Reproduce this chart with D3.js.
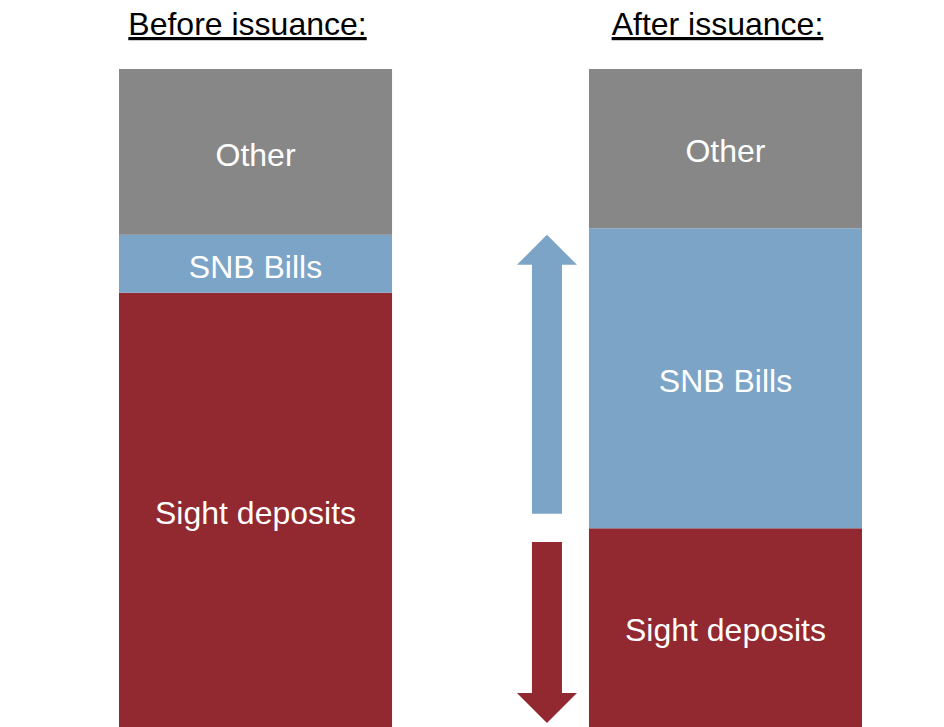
<!DOCTYPE html>
<html>
<head>
<meta charset="utf-8">
<script src="https://cdn.jsdelivr.net/npm/d3@7"></script>
<style>
  html, body { margin: 0; padding: 0; background: #fff; }
  svg { display: block; font-family: Arial, "Liberation Sans", sans-serif; }
</style>
</head>
<body>
<div id="chart"></div>
<script>
// columns and the stacked pieces (share of the balance sheet side, %)
const columns = ["Before issuance:", "After issuance:"];
const segments = ["Sight deposits", "SNB Bills", "Other"];
const beforeValues = [66.0, 8.8, 25.2];
const afterValues = [30.2, 45.6, 24.2];
const segmentColors = ["#922830", "#7ca4c7", "#878787"];

// arrows between the bars: [from, to] in the same units
const arrowUp = [32.4, 74.8];
const arrowDown = [28.1, 0.6];

(function () {
    const width = 944;
    const height = 727;

    const svg = d3.select("#chart")
        .append("svg")
            .attr("width", width)
            .attr("height", height);

    let x_scale = d3.scaleBand()
        .domain(columns)
        .range([119, 862])
        .paddingInner(0.419)
        .paddingOuter(0);

    let y_scale = d3.scaleLinear()
        .domain([0, 100])
        .range([727, 69]);

    // build stacked rows
    let rows = columns.map((c, i) => {
        let vals = i === 0 ? beforeValues : afterValues;
        let row = { column: c };
        segments.forEach((s, j) => row[s] = vals[j]);
        return row;
    });

    let stacked = d3.stack().keys(segments)(rows);
    let color = d3.scaleOrdinal().domain(segments).range(segmentColors);

    const groups = svg.selectAll("g.layer")
        .data(stacked)
        .enter()
        .append("g")
            .attr("class", "layer")
            .attr("fill", d => color(d.key));

    groups.selectAll("rect")
        .data(d => d)
        .enter()
        .append("rect")
            .attr("x", d => x_scale(d.data.column))
            .attr("width", x_scale.bandwidth())
            .attr("y", d => y_scale(d[1]))
            .attr("height", d => y_scale(d[0]) - y_scale(d[1]));

    // segment labels
    groups.selectAll("text")
        .data(d => d.map(p => ({ p: p, key: d.key })))
        .enter()
        .append("text")
            .attr("x", d => x_scale(d.p.data.column) + x_scale.bandwidth() / 2)
            .attr("y", d => (y_scale(d.p[0]) + y_scale(d.p[1])) / 2)
            .attr("dy", "0.43em")
            .attr("text-anchor", "middle")
            .style("fill", "white")
            .style("font-size", "32px")
            .text(d => d.key);

    // column titles
    svg.selectAll("text.title")
        .data(columns)
        .enter()
        .append("text")
            .attr("class", "title")
            .attr("x", d => x_scale(d) + x_scale.bandwidth() / 2 - 8)
            .attr("y", 35)
            .attr("text-anchor", "middle")
            .style("font-size", "32px")
            .style("fill", "black")
            .style("text-decoration", "underline")
            .text(d => d);

    // arrows
    const arrowX = x_scale(columns[1]) - 42;
    const shaft = 15;
    const head = 30;
    const headH = 30;

    function arrowPath(from, to) {
        let y0 = y_scale(from);
        let y1 = y_scale(to);
        let dir = y1 < y0 ? 1 : -1; // 1 = pointing up
        let yb = y1 + dir * headH;
        return d3.line()([
            [arrowX - shaft, y0],
            [arrowX - shaft, yb],
            [arrowX - head, yb],
            [arrowX, y1],
            [arrowX + head, yb],
            [arrowX + shaft, yb],
            [arrowX + shaft, y0]
        ]) + "Z";
    }

    svg.append("path")
        .attr("d", arrowPath(arrowUp[0], arrowUp[1]))
        .attr("fill", segmentColors[1]);

    svg.append("path")
        .attr("d", arrowPath(arrowDown[0], arrowDown[1]))
        .attr("fill", segmentColors[0]);
})();
</script>
</body>
</html>
